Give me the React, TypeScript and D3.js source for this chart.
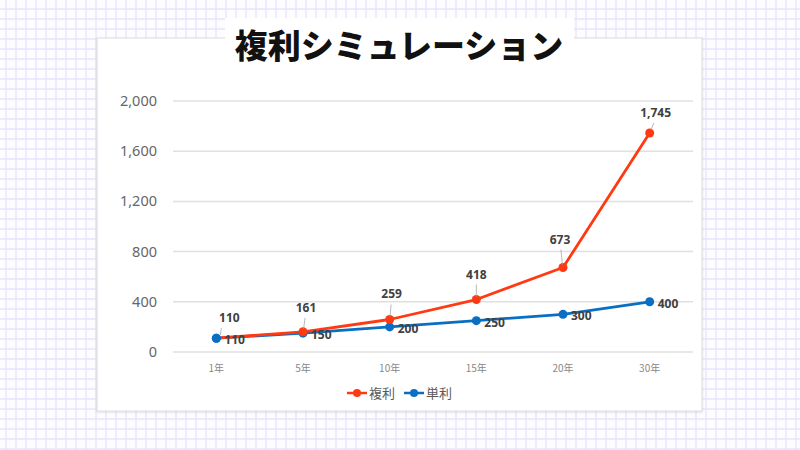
import React from "react";
import * as d3 from "d3";

const categories = ["1年", "5年", "10年", "15年", "20年", "30年"];
const compound = [110, 161, 259, 418, 673, 1745];
const simple = [110, 150, 200, 250, 300, 400];
const yTicks = [0, 400, 800, 1200, 1600, 2000];
const seriesNames = ["複利", "単利"];
const title = "複利シミュレーション";

const W = 800, H = 450;
const RED = "#ff3a12";
const BLUE = "#0a6fc2";
const JP = "'Noto Sans CJK JP', 'Noto Sans', sans-serif";

export default function App() {
  const x = d3.scalePoint<string>().domain(categories).range([173, 693]).padding(0.5);
  const y = d3.scaleLinear().domain([0, 2000]).range([352, 101]);
  const fmt = d3.format(",");
  const line = d3.line<number>().x((_, i) => x(categories[i])!).y((d) => y(d));

  const gridX: number[] = d3.range(6, W, 10);
  const gridY: number[] = d3.range(9, H, 10);

  return (
    <svg width={W} height={H} style={{ position: "absolute", left: 0, top: 0 }}>
      <defs>
        <filter id="sh" x="-5%" y="-5%" width="110%" height="110%">
          <feDropShadow dx="0" dy="1" stdDeviation="1.2" floodColor="#000" floodOpacity="0.12" />
        </filter>
      </defs>
      <rect width={W} height={H} fill="#fdfcff" />
      {gridX.map((gx, i) => (
        <line key={"gx" + i} x1={gx} x2={gx} y1={0} y2={H} stroke="#e8e3fb" strokeWidth={1.3} />
      ))}
      {gridY.map((gy, i) => (
        <line key={"gy" + i} x1={0} x2={W} y1={gy} y2={gy} stroke="#e8e3fb" strokeWidth={1.3} />
      ))}
      {/* card */}
      <rect x={97} y={38} width={605} height={373} fill="#fff" stroke="#dcdcdc" strokeWidth={1} filter="url(#sh)" />
      {/* title box */}
      <rect x={225} y={18} width={349} height={40} fill="#fff" />
      <text x={399} y={58} textAnchor="middle" fontFamily={JP} fontWeight={900} fontSize={33} fill="#111">
        {title}
      </text>
      {/* gridlines */}
      {yTicks.map((t) => (
        <g key={"yt" + t}>
          <line x1={173} x2={693} y1={y(t)} y2={y(t)} stroke="#e0e0e0" strokeWidth={1.5} />
          <text x={157} y={y(t) + 5} textAnchor="end" fontFamily="'Noto Sans', sans-serif" fontSize={14.5} fill="#666">
            {fmt(t)}
          </text>
        </g>
      ))}
      {categories.map((c) => (
        <text key={"xc" + c} x={x(c)!} y={372} textAnchor="middle" fontFamily={JP} fontSize={10} fill="#888">
          {c}
        </text>
      ))}
      {/* lines */}
      <path d={line(simple)!} fill="none" stroke={BLUE} strokeWidth={2.8} strokeLinejoin="round" />
      <path d={line(compound)!} fill="none" stroke={RED} strokeWidth={2.8} strokeLinejoin="round" />
      {simple.map((v, i) => (
        <circle key={"sc" + i} cx={x(categories[i])!} cy={y(v)} r={4.5} fill={BLUE} />
      ))}
      {compound.map((v, i) =>
        i === 0 ? null : <circle key={"cc" + i} cx={x(categories[i])!} cy={y(v)} r={4.5} fill={RED} />
      )}
      <circle cx={x(categories[0])!} cy={y(simple[0])} r={4.5} fill={BLUE} />
      {/* compound labels with leader lines */}
      {compound.map((v, i) => {
        const cx = x(categories[i])!;
        const cy = y(v);
        const dxs = [13, 3, 2, 0, -3, 6];
        const dys = [-16, -20, -21, -21, -24, -16];
        const lx = cx + dxs[i];
        const ly = cy + dys[i];
        return (
          <g key={"cl" + i}>
            <line x1={cx + (i === 0 ? 4 : dxs[i] * 0.2)} y1={cy - 3} x2={lx - (i === 0 ? 8 : dxs[i] * 0.3)} y2={ly + 6} stroke="#a6a6a6" strokeWidth={0.8} />
            <text x={lx} y={ly} textAnchor="middle" fontFamily="'Noto Sans', sans-serif" fontWeight={700} fontSize={12} fill="#404040">
              {fmt(v)}
            </text>
          </g>
        );
      })}
      {/* simple labels */}
      {simple.map((v, i) => (
        <text key={"sl" + i} x={x(categories[i])! + 8} y={y(v) + 6} fontFamily="'Noto Sans', sans-serif" fontWeight={700} fontSize={12} fill="#404040">
          {fmt(v)}
        </text>
      ))}
      {/* legend */}
      {[
        { name: seriesNames[0], color: RED, x0: 347 },
        { name: seriesNames[1], color: BLUE, x0: 404 },
      ].map((l) => (
        <g key={"lg" + l.name}>
          <line x1={l.x0} x2={l.x0 + 20} y1={393} y2={393} stroke={l.color} strokeWidth={2.5} />
          <circle cx={l.x0 + 10} cy={393} r={4} fill={l.color} />
          <text x={l.x0 + 22} y={398} fontFamily={JP} fontSize={13} fill="#595959">
            {l.name}
          </text>
        </g>
      ))}
    </svg>
  );
}
